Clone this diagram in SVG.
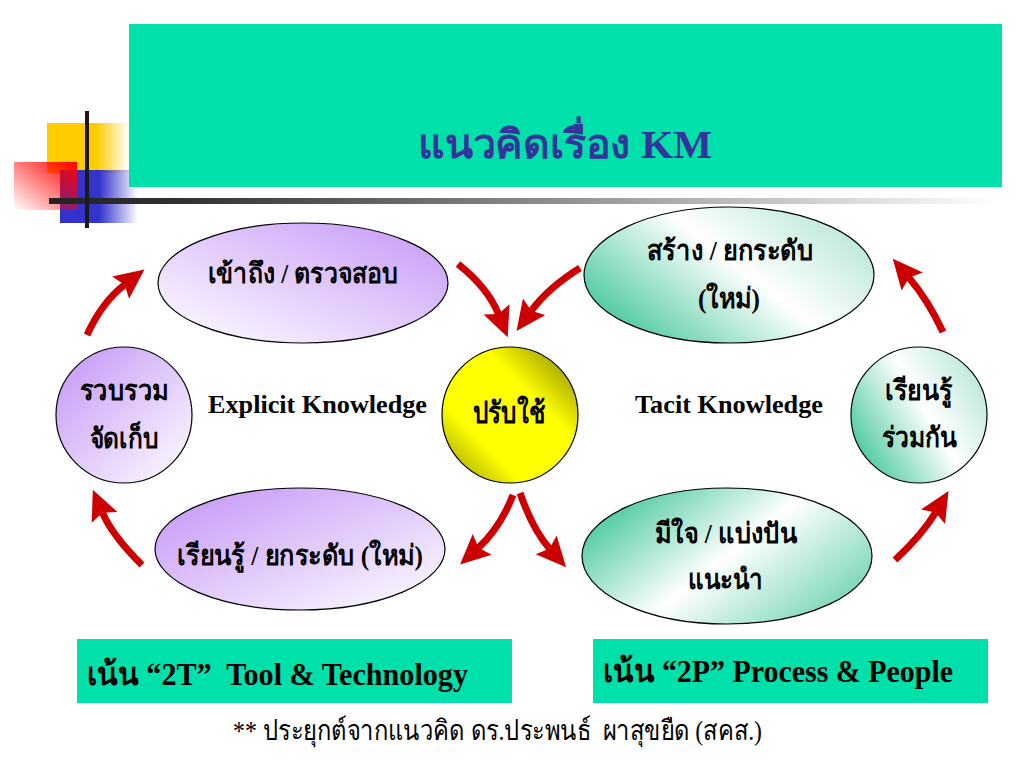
<svg xmlns="http://www.w3.org/2000/svg" width="1024" height="768" viewBox="0 0 1024 768">
<style>
text{font-family:"Liberation Serif","Noto Sans CJK SC",serif;fill:#000}
.b{font-weight:bold}
.node{stroke:#000;stroke-width:1.2}
.arr{fill:none;stroke:#cc0000;stroke-width:7}
</style>
<defs>
<linearGradient id="pA" x1="0" y1="1" x2="1" y2="0"><stop offset="0" stop-color="#ffffff"/><stop offset="1" stop-color="#c597f7"/></linearGradient>
<linearGradient id="pB" x1="0" y1="0" x2="1" y2="1"><stop offset="0" stop-color="#c293f5"/><stop offset="1" stop-color="#ffffff"/></linearGradient>
<linearGradient id="gA" x1="0" y1="0.8" x2="1" y2="0.2"><stop offset="0" stop-color="#3cc496"/><stop offset="0.55" stop-color="#ffffff"/><stop offset="1" stop-color="#b5e6d4"/></linearGradient>
<linearGradient id="gB" x1="0" y1="0.2" x2="1" y2="0.8"><stop offset="0" stop-color="#3cc496"/><stop offset="0.5" stop-color="#ffffff"/><stop offset="1" stop-color="#6dd2ae"/></linearGradient>
<linearGradient id="yl" x1="0" y1="1" x2="1" y2="0"><stop offset="0" stop-color="#8f8f00"/><stop offset="0.3" stop-color="#ffff00"/><stop offset="0.65" stop-color="#ffff00"/><stop offset="1" stop-color="#7a7a00"/></linearGradient>
<linearGradient id="ySq" x1="0" y1="0" x2="1" y2="0"><stop offset="0.6" stop-color="#ffcc00"/><stop offset="1" stop-color="#ffcc00" stop-opacity="0"/></linearGradient>
<linearGradient id="bSq" x1="0" y1="0" x2="1" y2="0"><stop offset="0.5" stop-color="#3333cc"/><stop offset="1" stop-color="#3333cc" stop-opacity="0"/></linearGradient>
<linearGradient id="rSq" x1="1" y1="0" x2="0" y2="1"><stop offset="0" stop-color="#ff0000"/><stop offset="1" stop-color="#ff0000" stop-opacity="0"/></linearGradient>
<linearGradient id="ln" x1="0" y1="0" x2="1" y2="0"><stop offset="0" stop-color="#222222"/><stop offset="0.15" stop-color="#333333"/><stop offset="1" stop-color="#333333" stop-opacity="0"/></linearGradient>
<marker id="ah" markerUnits="userSpaceOnUse" markerWidth="34" markerHeight="30" refX="5" refY="14" orient="auto"><path d="M0,0 L30,14 L0,28 L5,14 z" fill="#cc0000"/></marker>
</defs>
<rect width="1024" height="768" fill="#ffffff"/>
<g id="decoration">
<rect x="47" y="123" width="82" height="50" fill="url(#ySq)"/>
<rect x="60" y="170" width="78" height="53" fill="url(#bSq)"/>
<rect x="14" y="162" width="63" height="48" fill="url(#rSq)"/>
<rect x="49" y="198" width="950" height="6" fill="url(#ln)"/>
<rect x="85" y="111" width="4" height="117" fill="#1a1a1a"/>
</g>
<g id="title">
<rect x="129" y="24" width="873" height="163" fill="#00e0aa"/>
<text x="565" y="158" text-anchor="middle" class="b" font-size="40" style="fill:#333399" textLength="294" lengthAdjust="spacingAndGlyphs">แนวคิดเรื่อง KM</text>
</g>
<g id="connectors">
<path class="arr" marker-end="url(#ah)" d="M87,335 Q102,302 124.6,284.7"/>
<path class="arr" marker-end="url(#ah)" d="M458,264 Q488,288 498.4,314"/>
<path class="arr" marker-end="url(#ah)" d="M580,268 Q548,288 531.3,310.8"/>
<path class="arr" marker-end="url(#ah)" d="M513,495 Q500,528 478.5,547.7"/>
<path class="arr" marker-end="url(#ah)" d="M520,493 Q533,530 549.5,548.6"/>
<path class="arr" marker-end="url(#ah)" d="M142,565 Q112,535 102.6,512.8"/>
<path class="arr" marker-end="url(#ah)" d="M895,560 Q922,535 935.6,512.5"/>
<path class="arr" marker-end="url(#ah)" d="M943,332 Q928,300 909,277.7"/>
</g>
<g id="access">
<ellipse class="node" cx="303" cy="283" rx="145" ry="60" fill="url(#pA)"/>
<text x="303" y="283" text-anchor="middle" class="b" font-size="28" textLength="191" lengthAdjust="spacingAndGlyphs">เข้าถึง / ตรวจสอบ</text>
</g>
<g id="collect">
<circle class="node" cx="124" cy="415" r="68" fill="url(#pB)"/>
<text x="124" y="400" text-anchor="middle" class="b" font-size="28" textLength="89" lengthAdjust="spacingAndGlyphs">รวบรวม</text>
<text x="124" y="448" text-anchor="middle" class="b" font-size="28" textLength="69" lengthAdjust="spacingAndGlyphs">จัดเก็บ</text>
</g>
<g id="learn-upgrade">
<ellipse class="node" cx="300" cy="549" rx="145" ry="61" fill="url(#pB)"/>
<text x="300" y="565" text-anchor="middle" class="b" font-size="28" textLength="246" lengthAdjust="spacingAndGlyphs">เรียนรู้ / ยกระดับ (ใหม่)</text>
</g>
<g id="apply">
<circle class="node" cx="510" cy="415" r="68" fill="url(#yl)"/>
<text x="509" y="423" text-anchor="middle" class="b" font-size="30" textLength="72" lengthAdjust="spacingAndGlyphs">ปรับใช้</text>
</g>
<g id="create">
<ellipse class="node" cx="729" cy="275" rx="145" ry="68" fill="url(#gA)"/>
<text x="730" y="260" text-anchor="middle" class="b" font-size="28" textLength="166" lengthAdjust="spacingAndGlyphs">สร้าง / ยกระดับ</text>
<text x="729" y="308" text-anchor="middle" class="b" font-size="28" textLength="62" lengthAdjust="spacingAndGlyphs">(ใหม่)</text>
</g>
<g id="learn-together">
<circle class="node" cx="919" cy="415" r="68" fill="url(#gA)"/>
<text x="918.5" y="400" text-anchor="middle" class="b" font-size="28" textLength="67" lengthAdjust="spacingAndGlyphs">เรียนรู้</text>
<text x="919.5" y="447" text-anchor="middle" class="b" font-size="28" textLength="75" lengthAdjust="spacingAndGlyphs">ร่วมกัน</text>
</g>
<g id="share">
<ellipse class="node" cx="727" cy="556" rx="145" ry="68" fill="url(#gB)"/>
<text x="726" y="543" text-anchor="middle" class="b" font-size="28" textLength="142" lengthAdjust="spacingAndGlyphs">มีใจ / แบ่งปัน</text>
<text x="725.5" y="589" text-anchor="middle" class="b" font-size="28" textLength="75" lengthAdjust="spacingAndGlyphs">แนะนำ</text>
</g>
<g id="labels">
<text x="208" y="413" class="b" font-size="25" textLength="219" lengthAdjust="spacingAndGlyphs">Explicit Knowledge</text>
<text x="635" y="413" class="b" font-size="25" textLength="188" lengthAdjust="spacingAndGlyphs">Tacit Knowledge</text>
</g>
<g id="box-2T">
<rect x="77" y="639" width="435" height="64" fill="#00e0aa"/>
<text x="87" y="685" class="b" font-size="32" xml:space="preserve" textLength="381" lengthAdjust="spacingAndGlyphs">เน้น “2T”  Tool &amp; Technology</text>
</g>
<g id="box-2P">
<rect x="593" y="639" width="395" height="64" fill="#00e0aa"/>
<text x="603" y="682" class="b" font-size="32" textLength="350" lengthAdjust="spacingAndGlyphs">เน้น “2P” Process &amp; People</text>
</g>
<g id="footer">
<text x="233" y="740" font-size="28" xml:space="preserve" textLength="529" lengthAdjust="spacingAndGlyphs">** ประยุกต์จากแนวคิด ดร.ประพนธ์  ผาสุขยืด (สคส.)</text>
</g>
</svg>
